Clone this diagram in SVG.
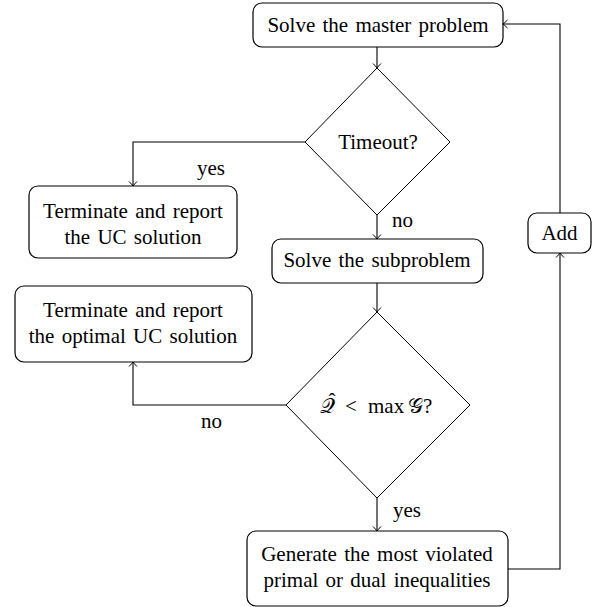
<svg xmlns="http://www.w3.org/2000/svg" width="597" height="607" viewBox="0 0 597 607">
<defs>
<marker id="arr" markerWidth="12" markerHeight="12" refX="0" refY="0" viewBox="-6 -6 12 12" orient="auto" markerUnits="userSpaceOnUse">
<path d="M -4.5 -4 Q -1.5 -1 0 0 Q -1.5 1 -4.5 4" fill="none" stroke="#000" stroke-width="1"/>
</marker>
<style>
.box{fill:#fff;stroke:#000;stroke-width:1.2}
.dia{fill:#fff;stroke:#000;stroke-width:1}
.t{font-family:"Liberation Serif","Times New Roman",serif;font-size:21px;fill:#000;text-anchor:middle;word-spacing:2px}
.lbl{font-family:"Liberation Serif","Times New Roman",serif;font-size:21px;fill:#000}
.m{font-family:"Liberation Serif","Times New Roman",serif;font-size:21px;fill:#000}
.c{fill:none;stroke:#000;stroke-width:1.1}
</style>
</defs>
<rect width="597" height="607" fill="#fff"/>
<g id="connectors">
<path class="c" d="M377 47 V68" marker-end="url(#arr)"/>
<path class="c" d="M305 142 H133 V186" marker-end="url(#arr)"/>
<path class="c" d="M377 215 V239" marker-end="url(#arr)"/>
<path class="c" d="M377 283 V312" marker-end="url(#arr)"/>
<path class="c" d="M286 405 H133 V362" marker-end="url(#arr)"/>
<path class="c" d="M377 498 V531" marker-end="url(#arr)"/>
<path class="c" d="M508 569 H560 V253" marker-end="url(#arr)"/>
<path class="c" d="M560 213 V24 H503" marker-end="url(#arr)"/>
<text class="lbl" x="197" y="175">yes</text>
<text class="lbl" x="392" y="227">no</text>
<text class="lbl" x="201" y="428">no</text>
<text class="lbl" x="393" y="517">yes</text>
</g>
<g id="master">
<rect class="box" x="253" y="3" width="250" height="44" rx="9"/>
<text class="t" x="378" y="32">Solve the master problem</text>
</g>
<g id="timeout">
<path class="dia" d="M377 68 L450 142 L377 215 L305 142 Z"/>
<text class="t" x="378" y="149">Timeout?</text>
</g>
<g id="terminate1">
<rect class="box" x="29" y="186" width="208" height="72" rx="9"/>
<text class="t" x="133" y="218">Terminate and report</text>
<text class="t" x="133" y="244">the UC solution</text>
</g>
<g id="subproblem">
<rect class="box" x="272" y="239" width="211" height="44" rx="9"/>
<text class="t" x="377" y="267">Solve the subproblem</text>
</g>
<g id="check">
<path class="dia" d="M377 312 L470 405 L377 498 L286 405 Z"/>
<text class="m" x="320" y="413">𝒬<tspan x="328.5" y="408">ˆ</tspan><tspan x="345" y="413">&lt;</tspan><tspan x="368" y="413">max</tspan><tspan x="408" y="413">𝒢?</tspan></text>
</g>
<g id="terminate2">
<rect class="box" x="15" y="286" width="237" height="76" rx="9"/>
<text class="t" x="133" y="317">Terminate and report</text>
<text class="t" x="133" y="343">the optimal UC solution</text>
</g>
<g id="generate">
<rect class="box" x="247" y="531" width="261" height="75" rx="9"/>
<text class="t" x="377" y="561">Generate the most violated</text>
<text class="t" x="377" y="587">primal or dual inequalities</text>
</g>
<g id="add">
<rect class="box" x="528" y="213" width="63" height="40" rx="9"/>
<text class="t" x="559.5" y="240">Add</text>
</g>
</svg>
